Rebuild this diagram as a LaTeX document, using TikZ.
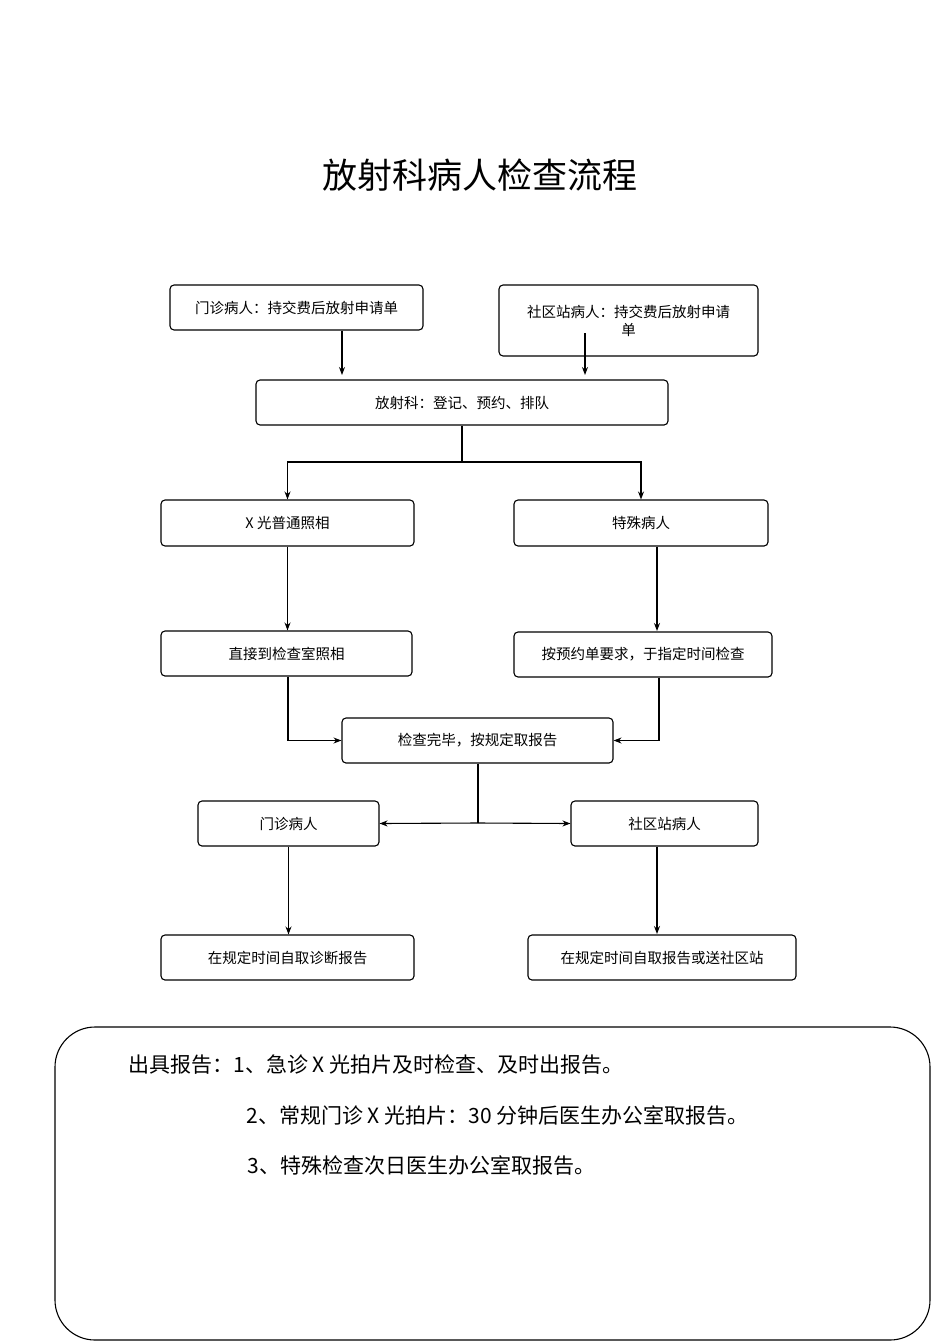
\documentclass[tikz,border=0pt]{standalone}
\usepackage{fontspec}
\setmainfont{Liberation Serif}
\newfontfamily\cjk{Noto Sans CJK SC}
\usetikzlibrary{arrows.meta}
\begin{document}
\begin{tikzpicture}[x=1pt,y=-1pt,
  box/.style={draw,line width=1.1pt,rounded corners=4pt,inner sep=0pt,font=\cjk\fontsize{14.5}{18}\selectfont,align=center},
  arr/.style={line width=1.1pt,-{Stealth[length=8pt,width=6pt]}},
  ln/.style={line width=1.1pt}]
\useasboundingbox (0,0) rectangle (950,1344);
\node[font=\cjk\fontsize{35}{40}\selectfont] (title) at (480,175) {放射科病人检查流程};
\node[box,minimum width=253pt,minimum height=45pt] (A) at (296.5,307.5) {门诊病人：持交费后放射申请单};
\node[box,minimum width=259pt,minimum height=71pt,text width=240pt] (B) at (628.5,320.5) {社区站病人：持交费后放射申请\\单};
\node[box,minimum width=412pt,minimum height=45pt] (C) at (462,402.5) {放射科：登记、预约、排队};
\node[box,minimum width=253pt,minimum height=46pt] (D) at (287.5,523) {X 光普通照相};
\node[box,minimum width=254pt,minimum height=46pt] (E) at (641,523) {特殊病人};
\node[box,minimum width=251pt,minimum height=45pt] (F) at (286.5,653.5) {直接到检查室照相};
\node[box,minimum width=258pt,minimum height=45pt] (G) at (643,654.5) {按预约单要求，于指定时间检查};
\node[box,minimum width=271pt,minimum height=45pt] (H) at (477.5,740.5) {检查完毕，按规定取报告};
\node[box,minimum width=181pt,minimum height=45pt] (I) at (288.5,823.5) {门诊病人};
\node[box,minimum width=187pt,minimum height=45pt] (J) at (664.5,823.5) {社区站病人};
\node[box,minimum width=253pt,minimum height=45pt] (K) at (287.5,957.5) {在规定时间自取诊断报告};
\node[box,minimum width=268pt,minimum height=45pt] (L) at (662,957.5) {在规定时间自取报告或送社区站};
\node[draw,line width=1.1pt,rounded corners=40pt,minimum width=875pt,minimum height=313pt] (N) at (492.5,1183.5) {};
\node[anchor=west,font=\cjk\fontsize{21}{24}\selectfont] (t1) at (125,1065) {出具报告：1、急诊 X 光拍片及时检查、及时出报告。};
\node[anchor=west,font=\cjk\fontsize{21}{24}\selectfont] (t2) at (243,1115) {2、常规门诊 X 光拍片：30 分钟后医生办公室取报告。};
\node[anchor=west,font=\cjk\fontsize{21}{24}\selectfont] (t3) at (244,1165) {3、特殊检查次日医生办公室取报告。};
\coordinate (c1) at (462,462);
\draw[arr] (A.south -| 342,0) -- (342,375);
\draw[arr] (585,333) -- (585,375);
\draw[ln] (C.south -| c1) -- (c1);
\draw[arr] (c1) -| (D.north);
\draw[arr] (c1) -| (E.north);
\draw[arr] (D.south) -- (F.north -| D.south);
\draw[arr] (E.south -| 657,0) -- (657,631);
\draw[arr] (F.south -| 288,0) |- (H.west);
\draw[arr] (G.south -| 659,0) |- (H.east);
\coordinate (c2) at (478,823);
\draw[ln] (H.south -| c2) -- (c2);
\draw[arr] (c2) -- (I.east);
\draw[arr] (c2) -- (J.west);
\draw[arr] (I.south) -- (K.north -| I.south);
\draw[arr] (J.south -| 657,0) -- (657,934);
\end{tikzpicture}
\end{document}
